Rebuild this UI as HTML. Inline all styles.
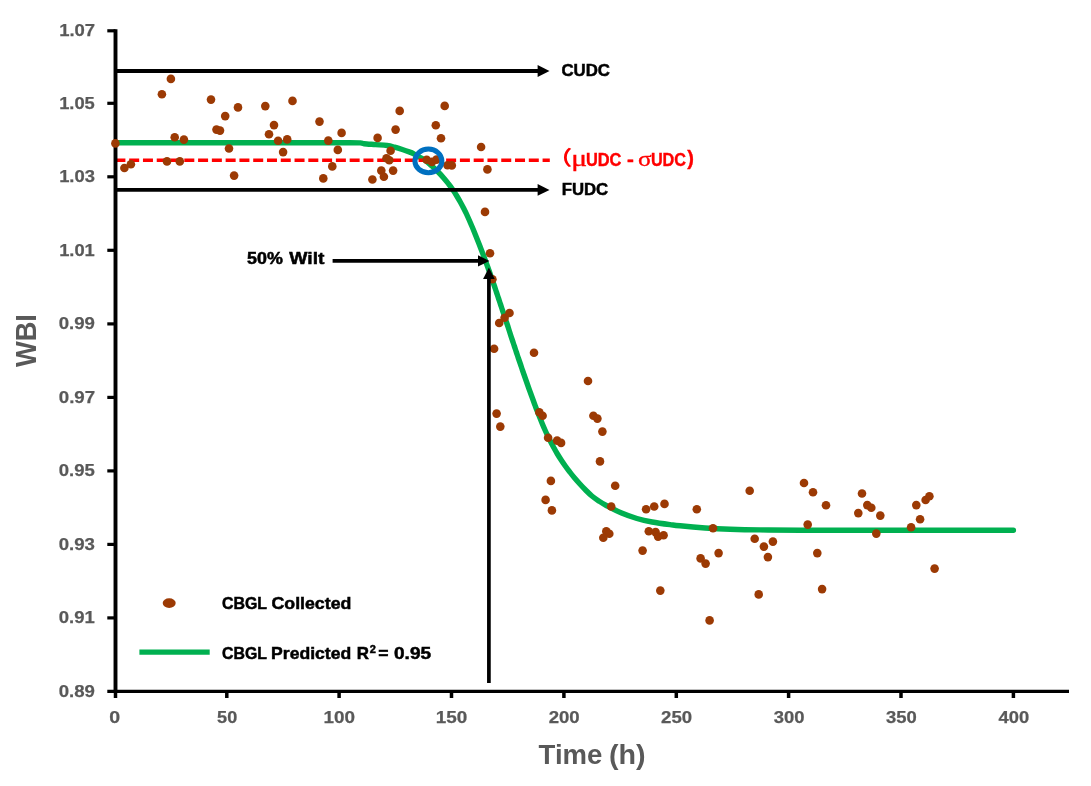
<!DOCTYPE html>
<html lang="en"><head><meta charset="utf-8"><title>WBI vs Time</title>
<style>html,body{margin:0;padding:0;background:#fff}svg{display:block;filter:blur(.45px)}text{font-family:"Liberation Sans","Noto Sans CJK SC",sans-serif;font-weight:bold}.g{fill:#595959;stroke:#595959;stroke-width:.25px}.k{fill:#000;stroke:#000;stroke-width:.5px}.r{fill:#FF0000;stroke:#f00;stroke-width:.4px}.t{stroke:none}.s{font-family:"Liberation Serif",serif;font-weight:normal;stroke-width:.35px}</style></head><body>
<svg width="1091" height="786" viewBox="0 0 1091 786">
<rect width="1091" height="786" fill="#fff"/>
<text class="g" y="36.3" font-size="17.3"><tspan x="59.15" textLength="35.97" lengthAdjust="spacingAndGlyphs">1.07</tspan></text>
<text class="g" y="108.8" font-size="17.3"><tspan x="59.15" textLength="35.67" lengthAdjust="spacingAndGlyphs">1.05</tspan></text>
<text class="g" y="182.3" font-size="17.3"><tspan x="59.15" textLength="35.82" lengthAdjust="spacingAndGlyphs">1.03</tspan></text>
<text class="g" y="255.8" font-size="17.3"><tspan x="59.15" textLength="35.67" lengthAdjust="spacingAndGlyphs">1.01</tspan></text>
<text class="g" y="329.4" font-size="17.3"><tspan x="58.76" textLength="36.22" lengthAdjust="spacingAndGlyphs">0.99</tspan></text>
<text class="g" y="402.9" font-size="17.3"><tspan x="58.75" textLength="36.37" lengthAdjust="spacingAndGlyphs">0.97</tspan></text>
<text class="g" y="476.4" font-size="17.3"><tspan x="58.76" textLength="36.08" lengthAdjust="spacingAndGlyphs">0.95</tspan></text>
<text class="g" y="549.9" font-size="17.3"><tspan x="58.76" textLength="36.22" lengthAdjust="spacingAndGlyphs">0.93</tspan></text>
<text class="g" y="623.4" font-size="17.3"><tspan x="58.76" textLength="36.08" lengthAdjust="spacingAndGlyphs">0.91</tspan></text>
<text class="g" y="696.9" font-size="17.3"><tspan x="58.76" textLength="36.22" lengthAdjust="spacingAndGlyphs">0.89</tspan></text>
<text class="g" y="723.1" font-size="17.3"><tspan x="109.22" textLength="10.89" lengthAdjust="spacingAndGlyphs">0</tspan></text>
<text class="g" y="723.1" font-size="17.3"><tspan x="217.08" textLength="20.11" lengthAdjust="spacingAndGlyphs">50</tspan></text>
<text class="g" y="723.1" font-size="17.3"><tspan x="323.42" textLength="31.56" lengthAdjust="spacingAndGlyphs">100</tspan></text>
<text class="g" y="723.1" font-size="17.3"><tspan x="435.79" textLength="31.56" lengthAdjust="spacingAndGlyphs">150</tspan></text>
<text class="g" y="723.1" font-size="17.3"><tspan x="548.70" textLength="31.01" lengthAdjust="spacingAndGlyphs">200</tspan></text>
<text class="g" y="723.1" font-size="17.3"><tspan x="661.07" textLength="31.01" lengthAdjust="spacingAndGlyphs">250</tspan></text>
<text class="g" y="723.1" font-size="17.3"><tspan x="773.69" textLength="30.77" lengthAdjust="spacingAndGlyphs">300</tspan></text>
<text class="g" y="723.1" font-size="17.3"><tspan x="886.06" textLength="30.77" lengthAdjust="spacingAndGlyphs">350</tspan></text>
<text class="g" y="723.1" font-size="17.3"><tspan x="998.57" textLength="30.63" lengthAdjust="spacingAndGlyphs">400</tspan></text>
<text class="g t" transform="translate(35.8 0) rotate(-90)" font-size="29.2"><tspan x="-367.07" textLength="52.94" lengthAdjust="spacingAndGlyphs">WBI</tspan></text>
<text class="g t" y="764.3" font-size="28"><tspan x="538.62" textLength="63.80" lengthAdjust="spacingAndGlyphs">Time</tspan> <tspan x="608.96" textLength="36.65" lengthAdjust="spacingAndGlyphs">(h)</tspan></text>
<path d="M115.4 142.8C129.5 142.8 169.2 142.8 200.0 142.8C230.8 142.8 275.0 142.8 300.0 142.8C325.0 142.8 339.9 142.8 350.0 142.8C360.1 142.8 357.9 142.8 360.3 142.9C362.7 143.1 361.6 143.4 364.1 143.7C366.6 144.0 371.7 144.3 375.5 144.6C379.3 144.9 383.8 145.1 387.0 145.5C390.2 145.9 392.1 146.5 394.6 147.2C397.2 147.9 399.8 148.7 402.3 149.5C404.9 150.3 408.0 151.4 409.9 152.1C411.8 152.8 411.2 152.5 413.7 153.8C416.2 155.1 421.7 158.0 424.7 160.0C427.7 162.0 429.6 164.0 431.9 166.0C434.1 168.0 436.2 170.0 438.2 172.0C440.2 174.0 442.0 176.0 443.7 178.0C445.4 180.0 447.1 182.0 448.6 184.0C450.2 186.0 451.6 188.0 453.0 190.0C454.4 192.0 455.6 194.0 456.8 196.0C458.0 198.0 459.2 200.0 460.3 202.0C461.4 204.0 462.5 206.0 463.5 208.0C464.5 210.0 465.6 212.0 466.5 214.0C467.4 216.0 468.3 218.0 469.2 220.0C470.1 222.0 470.9 224.0 471.8 226.0C472.7 228.0 473.5 230.0 474.3 232.0C475.1 234.0 475.9 236.0 476.7 238.0C477.5 240.0 478.3 242.0 479.1 244.0C479.9 246.0 480.6 248.0 481.4 250.0C482.2 252.0 482.9 254.0 483.7 256.0C484.4 258.0 485.2 260.0 485.9 262.0C486.6 264.0 487.4 266.0 488.1 268.0C488.8 270.0 489.5 272.0 490.2 274.0C490.9 276.0 491.6 278.0 492.3 280.0C493.0 282.0 493.7 284.0 494.4 286.0C495.1 288.0 495.7 290.0 496.4 292.0C497.1 294.0 497.7 296.0 498.4 298.0C499.1 300.0 499.7 302.0 500.4 304.0C501.1 306.0 501.7 308.0 502.4 310.0C503.1 312.0 503.7 314.0 504.4 316.0C505.1 318.0 505.7 320.0 506.4 322.0C507.1 324.0 507.8 326.0 508.4 328.0C509.0 330.0 509.7 332.0 510.3 334.0C510.9 336.0 511.6 338.0 512.3 340.0C513.0 342.0 513.6 344.0 514.3 346.0C515.0 348.0 515.6 350.0 516.3 352.0C517.0 354.0 517.6 356.0 518.3 358.0C519.0 360.0 519.7 362.0 520.4 364.0C521.1 366.0 521.7 368.0 522.4 370.0C523.1 372.0 523.8 374.0 524.5 376.0C525.2 378.0 525.9 380.0 526.6 382.0C527.3 384.0 528.0 386.0 528.7 388.0C529.4 390.0 530.2 392.0 530.9 394.0C531.6 396.0 532.4 398.0 533.1 400.0C533.8 402.0 534.5 404.0 535.3 406.0C536.0 408.0 536.8 410.0 537.6 412.0C538.4 414.0 539.2 416.0 540.0 418.0C540.8 420.0 541.6 422.0 542.4 424.0C543.2 426.0 544.1 428.0 545.0 430.0C545.9 432.0 546.8 434.0 547.8 436.0C548.8 438.0 549.8 440.0 550.8 442.0C551.8 444.0 552.9 446.0 554.0 448.0C555.1 450.0 556.2 452.0 557.4 454.0C558.6 456.0 559.9 458.0 561.2 460.0C562.5 462.0 563.9 464.0 565.3 466.0C566.7 468.0 568.2 470.0 569.8 472.0C571.3 474.0 572.9 476.0 574.6 478.0C576.3 480.0 578.1 482.0 579.9 484.0C581.7 486.0 583.6 488.0 585.6 490.0C587.6 492.0 589.7 494.2 591.9 496.0C594.1 497.8 596.3 499.3 598.7 500.9C601.1 502.5 602.5 503.5 606.3 505.5C610.1 507.5 616.5 510.9 621.6 513.1C626.7 515.3 631.8 517.0 636.9 518.5C642.0 520.0 646.6 521.0 652.1 522.0C657.6 523.0 665.3 524.0 670.0 524.6C674.7 525.2 674.2 525.2 680.1 525.8C686.0 526.4 696.8 527.4 705.1 528.0C713.4 528.6 721.0 529.0 730.1 529.3C739.2 529.6 748.4 529.8 760.0 529.9C771.6 530.0 776.7 530.1 800.0 530.2C823.3 530.3 864.4 530.3 900.0 530.3C935.6 530.3 994.5 530.3 1013.4 530.3" stroke="#00B050" stroke-width="5.4" fill="none" stroke-linecap="round" stroke-linejoin="round"/>
<path d="M115.4 160.3 H549.8" stroke="#FF0000" stroke-width="3.6" stroke-dasharray="10 3.78" fill="none"/>
<path d="M115.5 71.0 H538.6" stroke="#000" stroke-width="3.9" fill="none"/><path d="M549.5 71.0 L537.6 65.1 L537.6 76.9 Z" fill="#000"/>
<path d="M115.5 189.9 H538.6" stroke="#000" stroke-width="3.9" fill="none"/><path d="M549.5 189.9 L537.6 184.0 L537.6 195.8 Z" fill="#000"/>
<g stroke="#000" stroke-width="3.2" fill="none">
<path d="M115.5 29.2 V693.0" stroke-width="3.9"/>
<path d="M107.3 691.4 H1069"/>
<path d="M107.3 30.8 H115.5"/>
<path d="M107.3 103.3 H115.5"/>
<path d="M107.3 176.8 H115.5"/>
<path d="M107.3 250.3 H115.5"/>
<path d="M107.3 323.9 H115.5"/>
<path d="M107.3 397.4 H115.5"/>
<path d="M107.3 470.9 H115.5"/>
<path d="M107.3 544.4 H115.5"/>
<path d="M107.3 617.9 H115.5"/>
<path d="M115.5 691.4 V698" stroke-width="3.5"/>
<path d="M226.8 691.4 V698" stroke-width="3.5"/>
<path d="M339.1 691.4 V698" stroke-width="3.5"/>
<path d="M451.5 691.4 V698" stroke-width="3.5"/>
<path d="M563.9 691.4 V698" stroke-width="3.5"/>
<path d="M676.3 691.4 V698" stroke-width="3.5"/>
<path d="M788.6 691.4 V698" stroke-width="3.5"/>
<path d="M901.0 691.4 V698" stroke-width="3.5"/>
<path d="M1013.4 691.4 V698" stroke-width="3.5"/>
</g>
<g fill="#9C3A04">
<circle cx="115.4" cy="143.4" r="4.3"/>
<circle cx="124.4" cy="168.0" r="4.3"/>
<circle cx="130.9" cy="164.2" r="4.3"/>
<circle cx="161.9" cy="94.3" r="4.3"/>
<circle cx="170.9" cy="78.9" r="4.3"/>
<circle cx="167.0" cy="161.4" r="4.3"/>
<circle cx="174.7" cy="137.2" r="4.3"/>
<circle cx="179.8" cy="161.4" r="4.3"/>
<circle cx="183.9" cy="139.6" r="4.3"/>
<circle cx="211.0" cy="99.6" r="4.3"/>
<circle cx="216.5" cy="129.6" r="4.3"/>
<circle cx="220.0" cy="130.6" r="4.3"/>
<circle cx="225.2" cy="116.1" r="4.3"/>
<circle cx="229.0" cy="148.5" r="4.3"/>
<circle cx="234.1" cy="175.6" r="4.3"/>
<circle cx="238.0" cy="107.4" r="4.3"/>
<circle cx="265.3" cy="106.1" r="4.3"/>
<circle cx="269.0" cy="134.3" r="4.3"/>
<circle cx="274.0" cy="125.1" r="4.3"/>
<circle cx="292.5" cy="100.9" r="4.3"/>
<circle cx="278.1" cy="140.8" r="4.3"/>
<circle cx="287.2" cy="139.4" r="4.3"/>
<circle cx="283.1" cy="152.1" r="4.3"/>
<circle cx="319.5" cy="121.6" r="4.3"/>
<circle cx="328.3" cy="140.6" r="4.3"/>
<circle cx="341.6" cy="132.9" r="4.3"/>
<circle cx="337.8" cy="149.9" r="4.3"/>
<circle cx="332.3" cy="166.4" r="4.3"/>
<circle cx="323.3" cy="178.4" r="4.3"/>
<circle cx="377.6" cy="137.9" r="4.3"/>
<circle cx="390.6" cy="150.8" r="4.3"/>
<circle cx="386.5" cy="158.2" r="4.3"/>
<circle cx="389.3" cy="160.2" r="4.3"/>
<circle cx="381.3" cy="170.6" r="4.3"/>
<circle cx="383.9" cy="176.8" r="4.3"/>
<circle cx="372.4" cy="179.5" r="4.3"/>
<circle cx="393.1" cy="170.6" r="4.3"/>
<circle cx="395.6" cy="129.6" r="4.3"/>
<circle cx="399.7" cy="110.9" r="4.3"/>
<circle cx="444.7" cy="105.9" r="4.3"/>
<circle cx="435.8" cy="125.2" r="4.3"/>
<circle cx="441.0" cy="138.2" r="4.3"/>
<circle cx="426.7" cy="159.8" r="4.3"/>
<circle cx="432.0" cy="161.9" r="4.3"/>
<circle cx="436.5" cy="159.6" r="4.3"/>
<circle cx="447.5" cy="165.2" r="4.3"/>
<circle cx="451.8" cy="165.4" r="4.3"/>
<circle cx="481.1" cy="147.0" r="4.3"/>
<circle cx="487.4" cy="169.4" r="4.3"/>
<circle cx="485.0" cy="211.9" r="4.3"/>
<circle cx="490.0" cy="253.3" r="4.3"/>
<circle cx="492.4" cy="279.3" r="4.3"/>
<circle cx="499.2" cy="323.0" r="4.3"/>
<circle cx="504.6" cy="317.7" r="4.3"/>
<circle cx="509.5" cy="313.0" r="4.3"/>
<circle cx="494.1" cy="348.8" r="4.3"/>
<circle cx="534.0" cy="352.7" r="4.3"/>
<circle cx="588.0" cy="381.0" r="4.3"/>
<circle cx="496.6" cy="413.6" r="4.3"/>
<circle cx="500.3" cy="426.6" r="4.3"/>
<circle cx="539.3" cy="412.3" r="4.3"/>
<circle cx="542.6" cy="415.8" r="4.3"/>
<circle cx="548.1" cy="437.8" r="4.3"/>
<circle cx="557.1" cy="440.6" r="4.3"/>
<circle cx="561.1" cy="442.9" r="4.3"/>
<circle cx="593.4" cy="415.8" r="4.3"/>
<circle cx="597.4" cy="418.6" r="4.3"/>
<circle cx="602.4" cy="431.6" r="4.3"/>
<circle cx="600.0" cy="461.4" r="4.3"/>
<circle cx="550.9" cy="480.9" r="4.3"/>
<circle cx="545.6" cy="499.9" r="4.3"/>
<circle cx="551.9" cy="510.4" r="4.3"/>
<circle cx="615.2" cy="485.8" r="4.3"/>
<circle cx="611.2" cy="506.5" r="4.3"/>
<circle cx="646.1" cy="509.2" r="4.3"/>
<circle cx="654.2" cy="506.5" r="4.3"/>
<circle cx="664.5" cy="503.9" r="4.3"/>
<circle cx="696.8" cy="509.2" r="4.3"/>
<circle cx="713.0" cy="528.3" r="4.3"/>
<circle cx="749.7" cy="490.8" r="4.3"/>
<circle cx="804.0" cy="483.0" r="4.3"/>
<circle cx="813.0" cy="492.3" r="4.3"/>
<circle cx="826.0" cy="505.3" r="4.3"/>
<circle cx="807.7" cy="524.6" r="4.3"/>
<circle cx="606.3" cy="531.3" r="4.3"/>
<circle cx="609.3" cy="533.8" r="4.3"/>
<circle cx="603.3" cy="537.8" r="4.3"/>
<circle cx="648.8" cy="531.3" r="4.3"/>
<circle cx="655.6" cy="532.1" r="4.3"/>
<circle cx="658.1" cy="536.6" r="4.3"/>
<circle cx="663.6" cy="535.3" r="4.3"/>
<circle cx="642.6" cy="550.6" r="4.3"/>
<circle cx="700.6" cy="558.4" r="4.3"/>
<circle cx="705.6" cy="563.6" r="4.3"/>
<circle cx="718.6" cy="553.1" r="4.3"/>
<circle cx="754.7" cy="538.8" r="4.3"/>
<circle cx="763.9" cy="546.6" r="4.3"/>
<circle cx="772.9" cy="541.6" r="4.3"/>
<circle cx="767.9" cy="557.1" r="4.3"/>
<circle cx="817.3" cy="553.1" r="4.3"/>
<circle cx="660.3" cy="590.6" r="4.3"/>
<circle cx="758.7" cy="594.4" r="4.3"/>
<circle cx="822.1" cy="589.1" r="4.3"/>
<circle cx="709.6" cy="620.4" r="4.3"/>
<circle cx="862.0" cy="493.5" r="4.3"/>
<circle cx="858.3" cy="513.1" r="4.3"/>
<circle cx="867.3" cy="505.1" r="4.3"/>
<circle cx="871.3" cy="507.8" r="4.3"/>
<circle cx="880.3" cy="515.6" r="4.3"/>
<circle cx="876.3" cy="533.6" r="4.3"/>
<circle cx="911.1" cy="527.3" r="4.3"/>
<circle cx="916.3" cy="505.1" r="4.3"/>
<circle cx="920.1" cy="519.3" r="4.3"/>
<circle cx="925.6" cy="500.0" r="4.3"/>
<circle cx="929.4" cy="496.3" r="4.3"/>
<circle cx="934.6" cy="568.6" r="4.3"/>
</g>
<ellipse cx="428.4" cy="160.9" rx="13.5" ry="11.8" stroke="#0070C0" stroke-width="5" fill="none"/>
<path d="M332.6 260.9 H479.0" stroke="#000" stroke-width="3.8" fill="none"/><path d="M489.4 260.9 L478.0 255.2 L478.0 266.6 Z" fill="#000"/>
<path d="M488.9 683 V277" stroke="#000" stroke-width="3.7" fill="none"/>
<path d="M488.9 267.4 L483.1 278.9 L494.7 278.9 Z" fill="#000"/>
<text class="k" y="264.0" font-size="16.8"><tspan x="247.06" textLength="35.81" lengthAdjust="spacingAndGlyphs">50%</tspan> <tspan x="289.35" textLength="35.11" lengthAdjust="spacingAndGlyphs">Wilt</tspan></text>
<text class="k" y="76.4" font-size="16.8"><tspan x="561.43" textLength="48.51" lengthAdjust="spacingAndGlyphs">CUDC</tspan></text>
<text class="k" y="195.3" font-size="16.8"><tspan x="561.67" textLength="46.49" lengthAdjust="spacingAndGlyphs">FUDC</tspan></text>
<text class="r" y="165.85" font-size="18.4"><tspan x="547.63" textLength="24.85" lengthAdjust="spacingAndGlyphs" class="t" font-size="20" dy="-0.6">（</tspan><tspan x="571.23" textLength="15.89" lengthAdjust="spacingAndGlyphs" class="s" font-size="23" dy="0.3">μ</tspan><tspan x="585.92" textLength="35.52" lengthAdjust="spacingAndGlyphs" dy="0.3">UDC</tspan> <tspan x="627.08" textLength="6.86" lengthAdjust="spacingAndGlyphs">-</tspan> <tspan x="637.95" textLength="13.60" lengthAdjust="spacingAndGlyphs" class="s" font-size="22">σ</tspan><tspan x="650.93" textLength="35.10" lengthAdjust="spacingAndGlyphs">UDC</tspan><tspan x="687.25" textLength="6.66" lengthAdjust="spacingAndGlyphs" font-size="20" dy="-0.5">)</tspan></text>
<ellipse cx="169.2" cy="603.1" rx="6.5" ry="4.9" fill="#9C3A04"/>
<path d="M139.4 652.2 H209.7" stroke="#00B050" stroke-width="5.2" fill="none"/>
<text class="k" y="609.4" font-size="16.9"><tspan x="221.97" textLength="44.82" lengthAdjust="spacingAndGlyphs">CBGL</tspan> <tspan x="271.49" textLength="79.88" lengthAdjust="spacingAndGlyphs">Collected</tspan></text>
<text class="k" y="658.5" font-size="16.9"><tspan x="222.07" textLength="44.61" lengthAdjust="spacingAndGlyphs">CBGL</tspan> <tspan x="271.11" textLength="80.13" lengthAdjust="spacingAndGlyphs">Predicted</tspan> <tspan x="356.76" textLength="12.22" lengthAdjust="spacingAndGlyphs">R</tspan><tspan x="369.71" textLength="6.14" lengthAdjust="spacingAndGlyphs" font-size="11.2" dy="-6">2</tspan> <tspan x="378.25" textLength="10.28" lengthAdjust="spacingAndGlyphs" dy="6">=</tspan> <tspan x="394.04" textLength="37.01" lengthAdjust="spacingAndGlyphs">0.95</tspan></text>
</svg></body></html>
